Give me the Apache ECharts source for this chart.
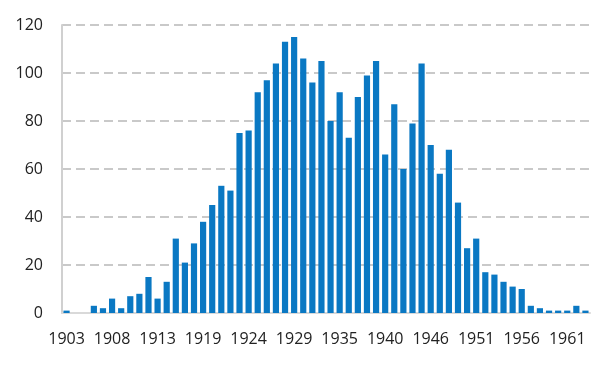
<!DOCTYPE html>
<html>
<head>
<meta charset="utf-8">
<script src="https://cdn.jsdelivr.net/npm/echarts@6/dist/echarts.min.js"></script>
<style>html,body{margin:0;padding:0;background:#fff}#c{width:615px;height:375px}</style>
</head>
<body>
<div id="c"></div>
<script>
const years = ['1903','1904','1905','1906','1907','1908','1909','1910','1911','1912',
  '1913','1914','1915','1916','1917','1919','1920','1921','1922','1923',
  '1924','1925','1926','1927','1928','1929','1930','1931','1932','1933',
  '1935','1936','1937','1938','1939','1940','1941','1942','1943','1944',
  '1946','1947','1948','1949','1950','1951','1952','1953','1954','1955',
  '1956','1957','1958','1959','1960','1961','1962','1963'];
const counts = [1,0,0,3,2,6,2,7,8,15,
  6,13,31,21,29,38,45,53,51,75,
  76,92,97,104,113,115,106,96,105,80,
  92,73,90,99,105,66,87,60,79,104,
  70,58,68,46,27,31,17,16,13,11,
  10,3,2,1,1,1,3,1];
const yTicks = {min: 0, max: 120, interval: 20};

const chart = echarts.init(document.getElementById('c'));
chart.setOption({
  animation: false,
  grid: {left: 62, right: 25, top: 25, bottom: 62, containLabel: false},
  xAxis: {
    type: 'category',
    data: years,
    axisLine: {show: true, lineStyle: {color: '#d9d9d9', width: 2}},
    axisTick: {show: false},
    axisLabel: {interval: 4, color: '#222', fontSize: 16, fontFamily: 'Open Sans', margin: 18}
  },
  yAxis: {
    type: 'value',
    min: yTicks.min, max: yTicks.max, interval: yTicks.interval,
    axisLine: {show: true, lineStyle: {color: '#d0d0d0', width: 2}},
    axisTick: {show: false},
    axisLabel: {color: '#222', fontSize: 16, fontFamily: 'Open Sans', margin: 19},
    splitLine: {show: true, lineStyle: {color: '#b8b8b8', width: 1.5, type: [9, 5]}}
  },
  series: [{
    type: 'bar',
    data: counts,
    barCategoryGap: '32%',
    itemStyle: {color: '#0a78c3'}
  }]
});
</script>
</body>
</html>
